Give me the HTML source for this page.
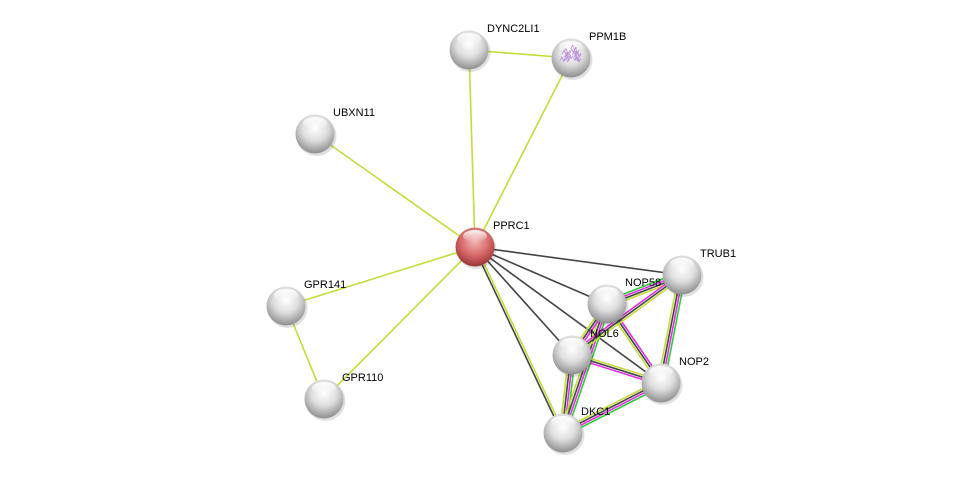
<!DOCTYPE html>
<html><head><meta charset="utf-8"><style>
html,body{margin:0;padding:0;background:#fff;}
svg{display:block;}
text{font-family:"Liberation Sans",sans-serif;font-size:11px;fill:#000;}
</style></head><body>
<svg id="s" width="975" height="479" viewBox="0 0 975 479">
<defs>
<radialGradient id="g" cx="50%" cy="35%" r="65%">
<stop offset="0" stop-color="#ffffff"/><stop offset="0.5" stop-color="#dedede"/><stop offset="1" stop-color="#8e8e8e"/>
</radialGradient>
<radialGradient id="r" cx="50%" cy="35%" r="65%">
<stop offset="0" stop-color="#f2b8b8"/><stop offset="0.55" stop-color="#d86a6a"/><stop offset="1" stop-color="#9a3535"/>
</radialGradient>
<linearGradient id="hl" x1="0" y1="0" x2="0" y2="1">
<stop offset="0" stop-color="#fff" stop-opacity="0.95"/><stop offset="1" stop-color="#fff" stop-opacity="0"/>
</linearGradient>
</defs>
<g id="edges"></g>
<g id="nodes"></g>
</svg>
<script>
var N={DYNC2LI1:[469,50],PPM1B:[571,58],UBXN11:[315,134],PPRC1:[475,247],TRUB1:[682,275],NOP58:[607,304],GPR141:[286,306],NOL6:[572,355],NOP2:[661,383],GPR110:[324,399],DKC1:[563,433]};
var Y="#c2dc3a",D="#444",G="#2ecc3a",M="#e030e0";
var E=[
["DYNC2LI1","PPM1B",[Y]],["PPRC1","DYNC2LI1",[Y]],["PPRC1","PPM1B",[Y]],["PPRC1","UBXN11",[Y]],
["PPRC1","GPR141",[Y]],["PPRC1","GPR110",[Y]],["GPR141","GPR110",[Y]],
["PPRC1","DKC1",[Y,D]],["PPRC1","NOP58",[D]],["PPRC1","NOL6",[D]],["PPRC1","NOP2",[D]],["PPRC1","TRUB1",[D]],
["DKC1","NOL6",[Y,D,M,G]],["DKC1","NOP58",[Y,D,M,G]],["DKC1","NOP2",[Y,D,M,G]],
["NOP58","TRUB1",[G,M,D,Y]],["NOP58","NOL6",[M,D,Y]],["NOP58","NOP2",[M,D,Y]],
["NOL6","NOP2",[Y,D,M]],["TRUB1","NOP2",[G,M,D,Y]],["NOL6","TRUB1",[M,D,Y]]];
var ns="http://www.w3.org/2000/svg",eg=document.getElementById("edges"),ng=document.getElementById("nodes");
E.forEach(function(e){var a=N[e[0]],b=N[e[1]],c=e[2];var dx=b[0]-a[0],dy=b[1]-a[1],l=Math.hypot(dx,dy),px=-dy/l,py=dx/l;var sp=2.2;
c.forEach(function(col,i){var o=(i-(c.length-1)/2)*sp;var L=document.createElementNS(ns,"line");
L.setAttribute("x1",a[0]+px*o);L.setAttribute("y1",a[1]+py*o);L.setAttribute("x2",b[0]+px*o);L.setAttribute("y2",b[1]+py*o);
L.setAttribute("stroke",col);L.setAttribute("stroke-width","1.6");eg.appendChild(L);});});
var seed=3;function rnd(){seed=(seed*9301+49297)%233280;return seed/233280;}
for(var k in N){var p=N[k];var sh=document.createElementNS(ns,"circle");sh.setAttribute("cx",p[0]+1.5);sh.setAttribute("cy",p[1]+2);sh.setAttribute("r",20);sh.setAttribute("fill","#000");sh.setAttribute("opacity","0.12");ng.appendChild(sh);
var c=document.createElementNS(ns,"circle");c.setAttribute("cx",p[0]);c.setAttribute("cy",p[1]);c.setAttribute("r",19.5);c.setAttribute("fill",k=="PPRC1"?"url(#r)":"url(#g)");ng.appendChild(c);
var h=document.createElementNS(ns,"ellipse");h.setAttribute("cx",p[0]);h.setAttribute("cy",p[1]-11);h.setAttribute("rx",12);h.setAttribute("ry",6);h.setAttribute("fill","url(#hl)");ng.appendChild(h);
if(k=="PPM1B"){for(var i=0;i<16;i++){var q=document.createElementNS(ns,"path");var x=p[0]-13+rnd()*18,y=p[1]-9+rnd()*16;q.setAttribute("d","M"+x+" "+y+" l2 -4 l2 5 l2 -3");q.setAttribute("stroke","#b488d8");q.setAttribute("fill","none");q.setAttribute("stroke-width","0.7");ng.appendChild(q);}}
var t=document.createElementNS(ns,"text");t.setAttribute("x",p[0]+18);t.setAttribute("y",p[1]-18);t.textContent=k;ng.appendChild(t);}
</script>
</body></html>
